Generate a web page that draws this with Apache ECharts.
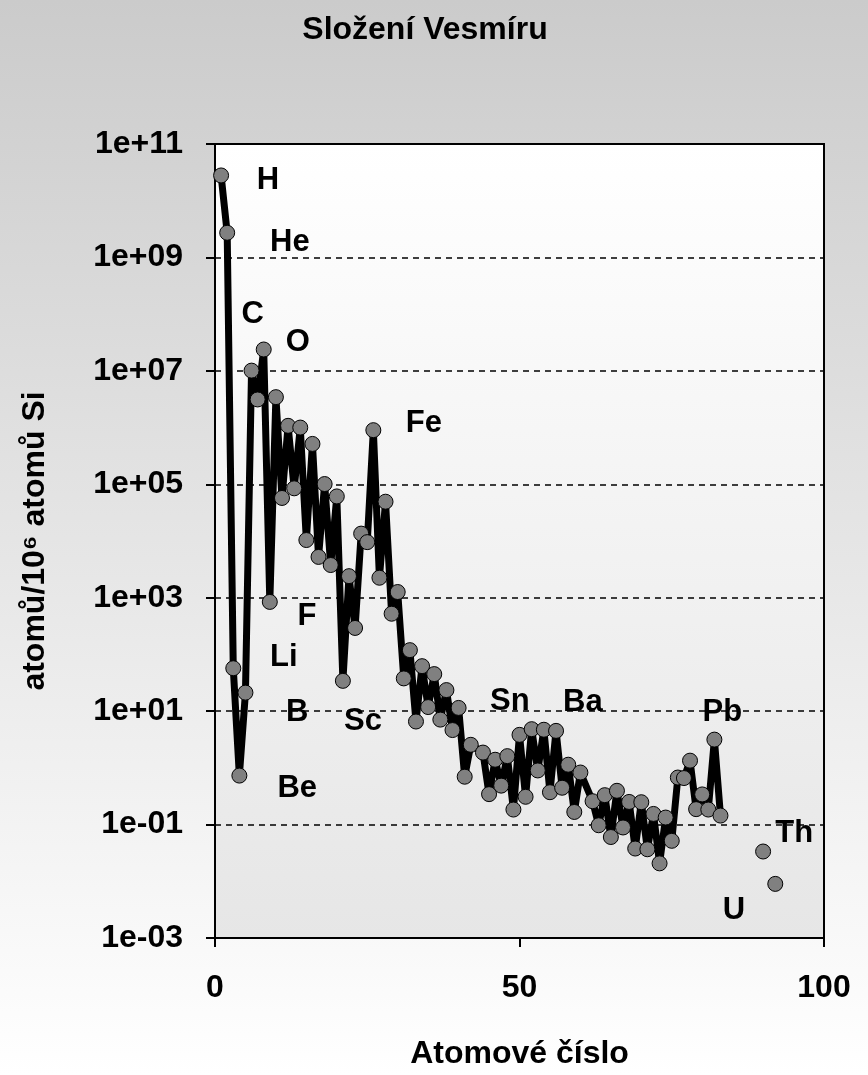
<!DOCTYPE html>
<html>
<head>
<meta charset="utf-8">
<script src="https://cdn.jsdelivr.net/npm/echarts@6/dist/echarts.min.js"></script>
<style>
  html, body { margin: 0; padding: 0; }
  #chart { width: 868px; height: 1075px; }
</style>
</head>
<body>
<div id="chart"></div>
<script>
// Solar-system abundances, atoms per 10^6 Si atoms, by atomic number.
// null marks elements without a value (gaps in the line).
const atomicNumbers = [
  1, 2, 3, 4, 5, 6, 7, 8, 9, 10,
  11, 12, 13, 14, 15, 16, 17, 18, 19, 20,
  21, 22, 23, 24, 25, 26, 27, 28, 29, 30,
  31, 32, 33, 34, 35, 36, 37, 38, 39, 40,
  41, 42, 44, 45, 46, 47, 48, 49, 50,
  51, 52, 53, 54, 55, 56, 57, 58, 59, 60,
  62, 63, 64, 65, 66, 67, 68, 69, 70,
  71, 72, 73, 74, 75, 76, 77, 78, 79, 80,
  81, 82, 83, 84, 90, 91, 92
];
const abundances = [
  2.79e10, 2.72e9, 57.1, 0.73, 21.2, 1.01e7, 3.13e6, 2.38e7, 843, 3.44e6,
  5.74e4, 1.074e6, 8.49e4, 1.0e6, 1.04e4, 5.15e5, 5240, 1.01e5, 3770, 6.11e4,
  34.2, 2400, 293, 1.35e4, 9550, 9.0e5, 2250, 4.93e4, 522, 1260,
  37.8, 119, 6.56, 62.1, 11.8, 45, 7.09, 23.5, 4.64, 11.4,
  0.698, 2.55, 1.86, 0.344, 1.39, 0.486, 1.61, 0.184, 3.82,
  0.309, 4.81, 0.90, 4.7, 0.372, 4.49, 0.446, 1.136, 0.1669, 0.8279,
  0.2582, 0.0973, 0.330, 0.0603, 0.3942, 0.0889, 0.2508, 0.0378, 0.2479,
  0.0367, 0.154, 0.0207, 0.133, 0.0517, 0.675, 0.661, 1.34, 0.187, 0.34,
  0.184, 3.15, 0.144, null, 0.0335, null, 0.0090
];

// Element symbols written next to the curve: [atomic number, abundance, text]
const elementNotes = [
  [8.7, 2.3e10, 'H'],
  [12.3, 1.8e9, 'He'],
  [6.2, 1.0e8, 'C'],
  [13.6, 3.2e7, 'O'],
  [34.3, 1.2e6, 'Fe'],
  [15.1, 460, 'F'],
  [11.3, 90, 'Li'],
  [13.5, 9.5, 'B'],
  [24.3, 6.5, 'Sc'],
  [13.5, 0.44, 'Be'],
  [48.4, 15, 'Sn'],
  [60.4, 14.5, 'Ba'],
  [83.3, 9.3, 'Pb'],
  [95.1, 0.07, 'Th'],
  [85.2, 0.0030, 'U']
];

// Labelled y ticks (every second decade) and dashed reference lines
const yTickValues = [1e-3, 1e-1, 1e1, 1e3, 1e5, 1e7, 1e9, 1e11];
const gridLineValues = [1e-1, 1e1, 1e3, 1e5, 1e7, 1e9];

const xTitle = 'Atomové číslo';
const yTitle = 'atomů/10⁶ atomů Si';
const chartTitle = 'Složení Vesmíru';

const FONT = '"Liberation Sans", Arial, sans-serif';

function expLabel(v) {
  const e = Math.round(Math.log10(v));
  return '1e' + (e < 0 ? '-' : '+') + String(Math.abs(e)).padStart(2, '0');
}

const chart = echarts.init(document.getElementById('chart'), null, { renderer: 'canvas' });

chart.setOption({
  animation: false,
  backgroundColor: {
    type: 'linear', x: 0, y: 0, x2: 0, y2: 1,
    colorStops: [{ offset: 0, color: '#cbcbcb' }, { offset: 1, color: '#ffffff' }]
  },
  graphic: [
    {
      type: 'text', x: 425, y: 14,
      style: { text: chartTitle, font: 'bold 32px ' + FONT, fill: '#000', align: 'center', verticalAlign: 'top' }
    }
  ],
  grid: {
    left: 215, right: 44, top: 144, bottom: 130,
    show: true,
    borderColor: '#000', borderWidth: 2,
    backgroundColor: {
      type: 'linear', x: 0, y: 0, x2: 0, y2: 1,
      colorStops: [{ offset: 0, color: '#ffffff' }, { offset: 1, color: '#e6e6e6' }]
    }
  },
  xAxis: {
    type: 'value', min: 0, max: 100, interval: 50,
    name: xTitle, nameLocation: 'middle', nameGap: 100,
    nameTextStyle: { fontFamily: FONT, fontWeight: 'bold', fontSize: 32, color: '#000' },
    axisLine: { show: true, lineStyle: { color: '#000', width: 2 } },
    axisTick: { show: true, length: 9, lineStyle: { color: '#000', width: 2 } },
    axisLabel: { fontFamily: FONT, fontWeight: 'bold', fontSize: 32, color: '#000', margin: 34 },
    splitLine: { show: false }
  },
  yAxis: {
    type: 'log', logBase: 10, min: 1e-3, max: 1e11,
    name: yTitle, nameLocation: 'middle', nameRotate: 90, nameGap: 164,
    nameTextStyle: { fontFamily: FONT, fontWeight: 'bold', fontSize: 32, color: '#000' },
    axisLine: { show: true, lineStyle: { color: '#000', width: 2 } },
    axisTick: { show: true, length: 9, customValues: yTickValues, lineStyle: { color: '#000', width: 2 } },
    axisLabel: {
      customValues: yTickValues,
      fontFamily: FONT, fontWeight: 'bold', fontSize: 32, color: '#000', margin: 32,
      formatter: expLabel
    },
    splitLine: { show: false }
  },
  series: [
    {
      type: 'line',
      data: atomicNumbers.map((z, i) => [z, abundances[i]]),
      connectNulls: false,
      showAllSymbol: true,
      symbol: 'circle',
      symbolSize: 15,
      itemStyle: { color: '#808080', borderColor: '#000', borderWidth: 1 },
      lineStyle: { color: '#000', width: 7 },
      z: 3,
      markLine: {
        silent: true,
        symbol: ['none', 'none'],
        label: { show: false },
        lineStyle: { color: '#000', width: 1.5, type: [6, 5] },
        data: gridLineValues.map(v => ({ yAxis: v })),
        z: 1
      }
    },
    {
      type: 'scatter',
      data: elementNotes.map(d => ({ value: [d[0], d[1]], name: d[2] })),
      symbolSize: 0,
      silent: true,
      z: 5,
      itemStyle: { opacity: 1 },
      label: {
        show: true, position: 'inside',
        formatter: p => p.name,
        fontFamily: FONT, fontWeight: 'bold', fontSize: 31, color: '#000',
        opacity: 1, textBorderWidth: 0
      }
    }
  ]
});
</script>
</body>
</html>
